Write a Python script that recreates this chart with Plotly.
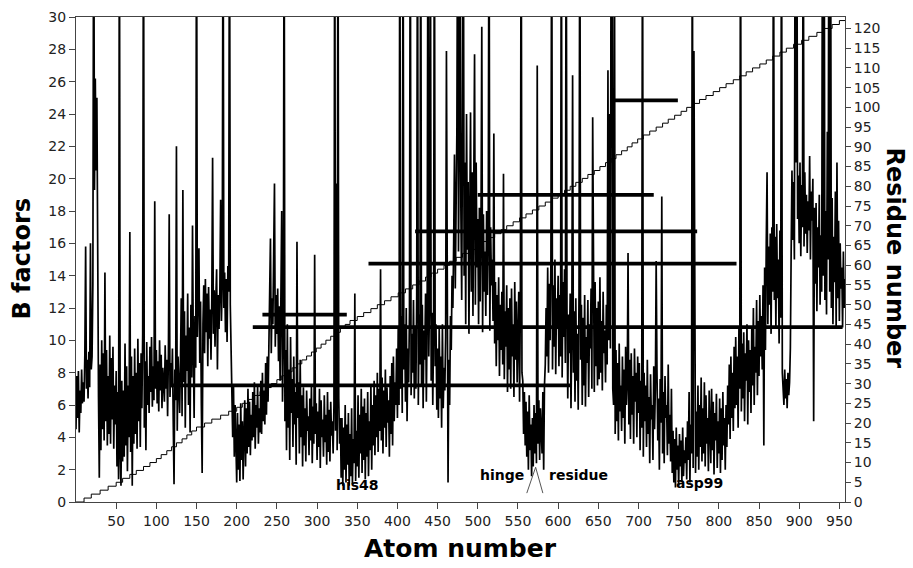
import plotly.graph_objects as go

# ---------------- data ----------------
b_factors = [
    4.5,7.8,5.2,8.1,4.3,6.9,5.5,8.2,6.1,7.4,
    6.2,9.1,15.8,7.0,8.8,6.4,9.3,7.1,16.0,8.2,
    9.0,13.5,40,19.3,26.2,20.5,25.0,12.0,6.5,1.5,
    8.5,3.2,10.0,4.5,9.2,3.8,14.2,5.0,9.4,3.5,
    7.8,4.2,10.3,3.6,8.9,5.1,9.6,3.3,7.2,4.8,
    8.1,2.2,6.8,1.4,40,3.0,1.0,7.5,2.5,6.9,
    2.8,9.8,3.5,8.4,1.9,7.2,4.0,16.7,3.1,9.0,
    1.0,7.8,3.6,9.5,4.2,8.0,3.3,10.1,5.0,8.6,
    3.4,9.2,5.8,10.4,40,4.6,8.7,3.2,9.9,6.0,
    7.8,5.5,9.6,6.8,10.2,5.9,8.4,6.3,18.6,7.0,
    9.4,6.1,8.7,5.6,10.0,6.9,9.1,5.8,8.3,7.4,
    6.2,9.7,7.0,8.8,5.3,9.2,17.8,6.5,8.6,7.1,
    9.5,5.0,1.1,8.2,6.3,22.0,4.4,9.0,7.2,5.5,
    8.8,12.6,5.3,19.3,7.4,11.8,4.6,10.3,8.1,12.9,
    6.0,10.8,4.3,12.2,7.7,17.1,9.5,5.2,11.5,8.3,
    40,10.2,13.0,15.7,8.6,12.4,6.0,1.8,11.0,13.4,
    9.2,13.8,10.5,12.9,8.4,13.3,10.1,11.9,8.8,12.6,
    21.3,10.4,13.1,9.6,12.5,14.4,8.2,12.8,10.7,13.0,
    18.7,11.2,13.6,40,12.0,14.2,10.5,13.8,9.9,14.6,
    13.0,40,12.2,9.8,6.5,4.0,7.2,2.8,6.0,3.5,
    1.2,5.5,2.0,4.8,1.3,6.1,2.6,5.0,1.4,4.2,
    6.3,2.2,5.8,3.0,7.0,3.4,6.2,2.9,5.4,3.8,
    6.8,4.0,7.4,3.3,6.0,4.6,7.2,3.6,5.8,4.3,
    7.5,4.2,8.0,5.0,6.9,4.8,8.6,5.4,9.0,6.2,
    10.8,13.5,16.3,9.2,12.6,11.0,14.0,19.7,9.6,12.8,
    10.4,13.2,8.7,12.1,7.5,11.4,18.0,6.2,9.8,40,
    5.0,9.4,3.2,11.0,4.6,8.2,2.6,10.2,5.5,7.6,
    3.4,9.0,4.8,6.8,2.3,16.1,5.2,7.4,3.0,8.8,
    4.0,6.6,2.2,7.1,3.5,5.8,2.5,6.9,4.4,5.3,
    2.9,6.4,3.8,7.2,2.4,5.9,3.6,15.3,4.2,6.1,
    2.6,5.6,3.4,7.0,2.1,6.3,4.0,5.1,2.8,6.6,
    3.7,5.4,2.3,6.8,3.1,5.7,2.5,6.2,4.1,5.0,
    3.0,6.0,40,4.4,19.7,3.2,40,6.4,3.6,5.2,
    1.5,5.2,1.0,4.6,2.0,6.0,1.2,4.8,2.3,5.5,
    1.0,4.2,1.6,5.8,1.1,3.9,2.4,12.9,1.3,4.4,
    2.2,6.6,1.5,5.4,3.0,7.0,1.8,5.9,2.6,6.4,
    1.4,5.5,2.8,6.8,1.6,5.0,3.2,7.2,2.0,6.0,
    3.5,7.5,2.9,6.6,4.0,8.0,3.1,7.0,4.4,14.4,
    3.8,7.7,3.0,6.9,4.6,8.2,3.4,7.1,4.9,6.3,
    2.8,7.8,4.2,8.6,3.5,9.0,5.0,7.4,6.0,9.5,
    5.2,10.8,6.0,40,7.0,11.5,5.5,40,8.2,11.0,
    6.2,12.0,5.0,9.5,7.4,11.8,40,6.6,10.4,8.0,
    12.5,6.4,10.9,7.0,12.8,40,6.0,11.6,8.5,40,
    7.3,12.2,5.8,10.6,8.8,12.9,6.2,11.3,40,9.0,
    12.4,40,7.5,11.7,6.0,10.5,40,8.4,11.0,5.7,
    9.5,5.2,10.8,6.4,9.0,4.6,11.0,5.8,8.3,6.9,
    10.2,27.9,5.1,1.2,8.8,6.0,11.5,9.4,14.0,12.0,
    16.0,21.5,13.2,19.0,23.0,40,15.5,22.2,40,18.0,
    12.5,23.6,40,14.0,21.0,11.0,24.0,15.6,19.8,10.4,
    22.5,24.1,13.0,20.4,11.5,18.6,27.7,12.2,21.0,14.5,
    17.5,11.0,18.2,12.4,16.8,29.4,10.5,17.8,13.0,15.5,
    11.5,18.0,12.8,16.2,40,10.6,17.0,13.4,15.0,11.2,
    22.8,9.8,13.6,8.4,12.8,10.0,13.9,7.8,12.2,9.4,
    13.0,8.5,20.3,7.6,11.8,9.6,13.4,6.8,12.0,8.2,
    12.6,7.0,13.2,9.0,11.0,6.5,13.6,8.8,12.4,7.4,
    10.8,13.0,6.2,12.2,40,8.0,7.5,4.2,6.8,3.5,
    6.2,2.8,5.6,2.0,6.6,3.2,4.8,1.6,5.2,2.2,
    6.0,3.0,5.5,2.4,27.0,3.6,6.3,2.6,5.8,4.0,
    3.0,6.8,2.0,7.2,8.5,12.0,9.0,14.5,8.0,13.5,
    10.0,14.8,40,8.2,13.4,9.6,15.0,7.9,12.6,10.8,
    14.0,8.4,12.8,9.0,40,7.7,13.6,10.2,14.4,8.6,
    40,12.0,6.4,11.6,9.2,12.9,5.8,10.5,26.4,8.0,
    11.8,6.2,12.6,7.5,10.4,5.7,13.0,40,8.8,12.2,
    6.0,11.4,7.2,12.8,5.9,10.2,8.6,12.5,6.5,11.0,
    9.5,13.2,7.0,23.8,10.8,6.8,13.6,8.4,12.0,7.2,
    12.4,7.6,13.9,8.0,11.2,6.9,13.0,9.2,10.6,7.4,
    12.2,8.5,26.7,10.0,24.0,9.5,40,40,7.0,6.0,
    40,4.2,9.4,5.0,8.6,3.8,9.8,5.6,7.2,4.4,
    9.0,5.2,8.2,3.6,9.6,6.0,7.4,15.4,4.8,8.8,
    3.9,9.2,5.4,7.8,3.6,9.5,6.2,8.0,4.0,9.0,
    5.5,8.6,3.2,7.5,4.6,40,2.8,8.0,5.0,7.2,
    3.4,8.8,4.2,6.5,2.4,7.9,5.1,6.0,2.6,8.4,
    4.5,7.0,14.9,8.2,3.8,6.4,2.0,7.6,4.9,18.9,
    3.0,6.8,2.4,7.8,5.2,6.0,2.9,8.5,3.6,5.4,
    2.5,7.0,1.8,4.4,1.2,3.9,0.9,4.6,2.0,3.5,
    1.0,4.2,2.2,3.8,1.3,4.6,1.6,3.2,2.4,4.0,
    1.4,5.0,2.6,6.8,1.2,4.8,3.0,40,2.1,27.9,
    6.5,1.8,5.6,2.8,7.2,2.0,6.0,3.4,7.7,2.5,
    5.8,3.0,7.4,2.2,6.6,3.6,5.2,1.9,6.9,4.0,
    2.4,7.0,3.2,6.2,1.7,5.5,3.8,6.7,2.1,5.0,
    3.0,6.4,1.8,5.8,2.6,6.8,3.5,5.2,2.0,6.0,
    3.4,7.2,4.8,8.5,3.9,9.0,5.2,8.0,4.4,9.6,
    5.8,10.2,6.0,9.0,4.6,10.8,7.0,40,5.6,9.8,
    6.4,10.5,5.0,9.2,7.5,11.0,4.8,10.0,6.8,9.4,
    5.5,10.8,7.2,12.0,6.0,9.6,8.0,12.5,6.6,11.2,
    7.8,12.8,9.0,11.5,8.2,13.4,3.5,14.5,9.4,16.0,
    20.4,11.0,15.8,12.2,16.6,10.4,17.0,13.0,40,12.5,
    16.4,10.8,17.2,12.6,15.0,9.8,16.8,11.4,40,8.0,
    7.0,6.0,8.2,6.4,7.6,5.8,8.0,6.6,7.4,9.5,
    15.5,20.5,16.2,19.8,15.0,40,21.0,40,17.5,20.2,
    16.0,21.0,15.2,19.6,17.0,40,15.8,20.4,16.6,19.0,
    15.4,18.6,16.8,21.4,15.0,19.2,17.4,20.0,5.0,18.2,
    13.5,18.5,11.8,17.0,14.5,19.0,12.2,16.5,13.0,40,
    14.0,40,12.5,18.0,11.6,22.9,15.0,40,13.0,40,
    12.0,18.8,11.0,16.4,13.6,19.2,10.8,21.0,12.6,17.4,
    11.2,16.0,13.2,14.5,10.8,15.5,12.0,13.8,
]
atom_numbers = list(range(len(b_factors)))

# atoms per residue (staircase: residue number vs atom number)
atoms_per_residue = [
    10,9,11,10,10,
    8,9,8,9,8,8,
    6,7,6,6,7,6,6,6,
    10,9,11,10,10,
    7,8,7,7,7,7,7,
    6,6,7,6,6,6,6,6,6,6,6,6,6,6,6,
    9,8,9,8,9,8,9,9,9,
    8,8,7,8,8,7,8,
    8,8,8,8,8,8,8,7,
    8,8,8,8,8,8,9,
    7,8,7,7,8,7,8,7,
    7,7,6,7,7,6,7,7,
    8,8,8,7,8,8,7,8,
    8,8,9,8,8,9,8,
    8,8,9,8,8,9,8,
    9,10,9,10,9,10,9,
    8,
]

# thick horizontal bars: (B level, first atom, last atom)
bar_levels = [24.84, 19.0, 16.74, 14.74, 11.59, 10.82, 7.22]
bar_starts = [666, 500, 422, 364, 232, 220, 118]
bar_ends = [749, 719, 773, 822, 337, 954, 617]

# text labels: (text, atom, B)
label_texts = ["his48", "hinge", "residue", "asp99"]
label_atoms = [350, 530, 625, 776]
label_b = [1.03, 1.65, 1.65, 1.16]

x_ticks = list(range(50, 951, 50))
y_ticks = list(range(0, 31, 2))
y2_ticks = list(range(0, 121, 5))

# ---------------- figure ----------------
FONT = "DejaVu Sans"
fig = go.Figure()

fig.add_trace(go.Scatter(x=atom_numbers, y=b_factors, mode="lines",
                         line=dict(color="black", width=1.7),
                         showlegend=False, hoverinfo="skip"))

for lvl, s, e in zip(bar_levels, bar_starts, bar_ends):
    fig.add_trace(go.Scatter(x=[s, e], y=[lvl, lvl], mode="lines",
                             line=dict(color="black", width=3.8),
                             showlegend=False, hoverinfo="skip"))

# staircase
stair_x, stair_y = [], []
pos = 0
for i, n in enumerate(atoms_per_residue):
    stair_x.append(pos)
    stair_y.append(i)
    pos += n
stair_x.append(pos)
stair_y.append(len(atoms_per_residue))
fig.add_trace(go.Scatter(x=stair_x, y=stair_y, mode="lines", yaxis="y2",
                         line=dict(color="black", width=1, shape="hv"),
                         showlegend=False, hoverinfo="skip"))

for t, a, b in zip(label_texts, label_atoms, label_b):
    fig.add_annotation(x=a, y=b, text="<b>%s</b>" % t, showarrow=False,
                       xanchor="center", yanchor="middle",
                       font=dict(family=FONT, size=14, color="black"))

# hinge arrow (thin caret)
hinge_apex = (572, 2.15)
for base in (561, 581):
    fig.add_shape(type="line", x0=base, y0=0.55, x1=hinge_apex[0], y1=hinge_apex[1],
                  line=dict(color="#555", width=1))

# axis titles
fig.add_annotation(xref="paper", yref="paper", x=0.5, y=-0.0955,
                   xanchor="center", yanchor="middle",
                   text="<b>Atom number</b>", showarrow=False,
                   font=dict(family=FONT, size=25, color="black"))
fig.add_annotation(xref="paper", yref="paper", x=-0.0702, y=0.502,
                   xanchor="center", yanchor="middle",
                   text="<b>B factors</b>", textangle=-90, showarrow=False,
                   font=dict(family=FONT, size=24, color="black"))
fig.add_annotation(xref="paper", yref="paper", x=1.065, y=0.502,
                   xanchor="center", yanchor="middle",
                   text="<b>Residue number</b>", textangle=90, showarrow=False,
                   font=dict(family=FONT, size=24, color="black"))

axis_line = "#444"
fig.update_layout(
    width=913, height=568,
    margin=dict(l=76, r=68, t=17, b=66, autoexpand=False),
    plot_bgcolor="white", paper_bgcolor="white",
    font=dict(family=FONT, size=14, color="#222"),
    xaxis=dict(range=[0, 957], tickvals=x_ticks, ticks="outside", ticklen=6,
               tickcolor=axis_line, showline=True, linecolor=axis_line, linewidth=1,
               mirror=True, showgrid=False, zeroline=False, automargin=False,
               tickfont=dict(family=FONT, size=14, color="#222")),
    yaxis=dict(range=[0, 30], tickvals=y_ticks, ticks="outside", ticklen=6,
               tickcolor=axis_line, showline=True, linecolor=axis_line, linewidth=1,
               showgrid=False, zeroline=False, automargin=False,
               tickfont=dict(family=FONT, size=14, color="#222")),
    yaxis2=dict(range=[0, 122.9], tickvals=y2_ticks, overlaying="y", side="right",
                ticks="outside", ticklen=5, tickcolor=axis_line, showline=True,
                linecolor=axis_line, linewidth=1, showgrid=False, zeroline=False,
                automargin=False,
                tickfont=dict(family=FONT, size=14, color="#222")),
)

fig.write_html("out.html", config={"displayModeBar": False},
               post_script="document.body.style.margin='0px';document.body.style.overflow='hidden';")
